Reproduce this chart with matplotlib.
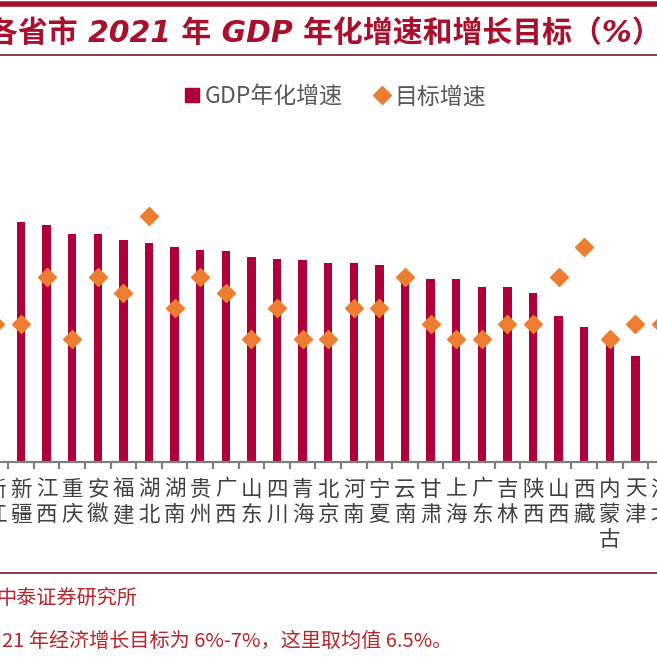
import matplotlib
matplotlib.use("Agg")
import matplotlib.pyplot as plt
from matplotlib.lines import Line2D
import numpy as np

plt.rcParams['font.family'] = ['Noto Sans CJK SC', 'DejaVu Sans']

provinces = ["浙江", "新疆", "江西", "重庆", "安徽", "福建", "湖北", "湖南", "贵州",
             "广西", "山东", "四川", "青海", "北京", "河南", "宁夏", "云南", "甘肃",
             "上海", "广东", "吉林", "陕西", "山西", "西藏", "内蒙古", "天津", "河北"]
gdp_growth = [10.0, 9.8, 9.7, 9.4, 9.4, 9.2, 9.1, 9.0, 8.9,
              8.85, 8.65, 8.6, 8.55, 8.45, 8.45, 8.4, 7.95, 7.95,
              7.95, 7.7, 7.7, 7.5, 6.75, 6.4, 5.9, 5.45, 5.3]
target_growth = [6.5, 6.5, 8.0, 6.0, 8.0, 7.5, 10.0, 7.0, 8.0,
                 7.5, 6.0, 7.0, 6.0, 6.0, 7.0, 7.0, 8.0, 6.5,
                 6.0, 6.0, 6.5, 6.5, 8.0, 9.0, 6.0, 6.5, 6.5]

W, H = 657, 657
BAR = '#B0003A'
ORANGE = '#ED7D31'
TITLE_RED = '#A8102E'
NOTE_RED = '#B8252B'
GRAY = '#808080'

fig = plt.figure(figsize=(W / 100, H / 100), dpi=100)

# axes (extends beyond figure so the edge categories are cut)
left_px = -17.4
width_px = 691.2
ax = fig.add_axes([left_px / W, 1 - 462 / H, width_px / W, 277 / H])
x = np.arange(len(provinces))
ax.bar(x, gdp_growth, width=0.33, color=BAR, zorder=2)
ax.plot(x, target_growth, linestyle='none', marker='D', ms=9.2, color=ORANGE,
        markeredgecolor=ORANGE, zorder=3)
ax.set_xlim(-0.5, len(provinces) - 0.5)
ax.set_ylim(2, 11)
for s in ['left', 'right', 'top']:
    ax.spines[s].set_visible(False)
ax.spines['bottom'].set_color(GRAY)
ax.spines['bottom'].set_linewidth(1.6)
ax.set_yticks([])
ax.set_xticks(x)
ax.set_xticklabels(['\n'.join(p) for p in provinces], fontsize=15.5,
                   color='#404040', linespacing=1.2)
ax.tick_params(axis='x', which='major', length=0, pad=12)
ax.set_xticks(np.arange(len(provinces) + 1) - 0.5, minor=True)
ax.tick_params(axis='x', which='minor', length=5, width=1.6, color=GRAY,
               direction='out')

# legend
handles = [Line2D([], [], linestyle='none', marker='s', ms=10, color=BAR),
           Line2D([], [], linestyle='none', marker='D', ms=9, color=ORANGE)]
fig.legend(handles, ['GDP年化增速', '目标增速'], loc='center',
           bbox_to_anchor=(335 / W, 1 - 97 / H), ncol=2, frameon=False,
           fontsize=16.5, handlelength=0.7, handletextpad=0.2,
           columnspacing=1.4, labelcolor='#595959')

# title & decorative lines
fig.add_artist(Line2D([0, 1], [1 - 4 / H, 1 - 4 / H], transform=fig.transFigure,
                      color=TITLE_RED, lw=4))
fig.add_artist(Line2D([0, 1], [1 - 55 / H, 1 - 55 / H], transform=fig.transFigure,
                      color='#7A1A28', lw=1.2))
fig.text(-12 / W, 1 - 33 / H, '各省市 2021 年 GDP 年化增速和增长目标（%）',
         fontsize=21.5, fontweight='bold', fontstyle='italic', color=TITLE_RED,
         ha='left', va='center',
         family=['DejaVu Sans', 'Noto Sans CJK SC'])

fig.add_artist(Line2D([0, 1], [1 - 573 / H, 1 - 573 / H], transform=fig.transFigure,
                      color='#7A1A28', lw=1.2))
fig.text(-4 / W, 1 - 598 / H, '中泰证券研究所', fontsize=14.5, color=NOTE_RED,
         ha='left', va='center')
fig.text(2 / W, 1 - 641 / H, '21 年经济增长目标为 6%-7%，这里取均值 6.5%。',
         fontsize=14.5, color=NOTE_RED, ha='left', va='center')

fig.savefig('out.png', dpi=100)
